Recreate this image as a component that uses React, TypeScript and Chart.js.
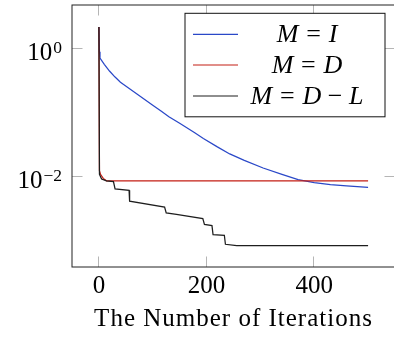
import React, { useEffect, useRef } from 'react';
import { Chart, registerables } from 'chart.js';

Chart.register(...registerables);

// Residual histories for the three choices of M
const iterIdentity = [0, 1, 2, 10, 20, 30, 40, 55, 70, 85, 100, 116, 130, 150, 178, 194, 220, 243, 270, 305, 340, 370, 400, 430, 460, 500];
const residualIdentity = [2.2, 0.9, 0.72, 0.575, 0.447, 0.363, 0.302, 0.245, 0.2, 0.162, 0.132, 0.106, 0.087, 0.069, 0.049, 0.04, 0.0295, 0.0229, 0.0182, 0.0138, 0.011, 0.0091, 0.0082, 0.0076, 0.0073, 0.0069];

const iterDiagonal = [0, 1, 3, 8, 14, 500];
const residualDiagonal = [2.2, 0.0125, 0.011, 0.0095, 0.0087, 0.0087];

const iterLower = [0, 1, 5, 14, 27, 30, 56, 57, 122, 125, 144, 193, 196, 210, 212, 233, 235, 256, 500];
const residualLower = [2.2, 0.011, 0.0093, 0.0087, 0.0085, 0.0065, 0.0062, 0.0042, 0.0034, 0.00275, 0.0026, 0.00224, 0.00182, 0.00174, 0.00126, 0.00123, 0.00089, 0.00085, 0.00085];

const seriesLabels = ['M = I', 'M = D', 'M = D − L'];
const seriesColors = ['#2a48c8', '#c41e14', '#1e1e1e'];

const xTicks = [0, 200, 400];
const yTickExponents = [0, -2];
const xTitle = 'The Number of Iterations';

const FAMILY = '"Liberation Serif", "Times New Roman", serif';
const FONT_SIZE = 25;

const toPoints = (xs: number[], ys: number[]) => xs.map((x, i) => ({ x, y: ys[i] }));

// Draws "M = D − L" style labels: italic letters, upright operators with math spacing
function drawMath(ctx: CanvasRenderingContext2D, label: string, cx: number, baseline: number, size: number) {
  const pieces = label.split(' ').map((tok) => {
    const op = tok === '=' || tok === '−';
    const gap = op ? (tok === '=' ? 0.3 : 0.25) * size : 0;
    const font = `${op ? '' : 'italic '}${size}px ${FAMILY}`;
    ctx.font = font;
    return { tok, font, gap, w: ctx.measureText(tok).width };
  });
  const total = pieces.reduce((s, p) => s + p.w + 2 * p.gap, 0);
  let x = cx - total / 2;
  ctx.textBaseline = 'alphabetic';
  ctx.textAlign = 'left';
  for (const p of pieces) {
    x += p.gap;
    ctx.font = p.font;
    ctx.fillText(p.tok, x, baseline);
    x += p.w + p.gap;
  }
}

const axisDecor = {
  id: 'axisDecor',
  beforeDatasetsDraw(chart: any) {
    const { ctx, chartArea: a, scales } = chart;
    const tl = 10.5;
    ctx.save();
    ctx.strokeStyle = '#b5b5b5';
    ctx.lineWidth = 1;
    ctx.beginPath();
    for (const t of scales.x.ticks) {
      const px = Math.round(scales.x.getPixelForValue(t.value)) - 0.5;
      ctx.moveTo(px, a.top);
      ctx.lineTo(px, a.top + tl);
      ctx.moveTo(px, a.bottom);
      ctx.lineTo(px, a.bottom - tl);
    }
    for (const t of scales.y.ticks) {
      const py = Math.round(scales.y.getPixelForValue(t.value)) - 0.5;
      ctx.moveTo(a.left, py);
      ctx.lineTo(a.left + tl, py);
      ctx.moveTo(a.right, py);
      ctx.lineTo(a.right - tl, py);
    }
    ctx.stroke();
    ctx.restore();
  },
  afterDraw(chart: any) {
    const { ctx, chartArea: a, scales } = chart;
    ctx.save();

    // axis frame
    ctx.strokeStyle = '#222';
    ctx.lineWidth = 1;
    ctx.strokeRect(a.left, a.top, a.right - a.left, a.bottom - a.top);

    // x axis title, slightly tracked out
    ctx.fillStyle = '#000';
    ctx.font = `${FONT_SIZE}px ${FAMILY}`;
    ctx.textAlign = 'center';
    ctx.textBaseline = 'alphabetic';
    (ctx as any).letterSpacing = '1px';
    ctx.fillText(xTitle, (scales.x.left + scales.x.right) / 2, 326);
    (ctx as any).letterSpacing = '0px';

    // y tick labels as 10 with a raised exponent
    const supSize = FONT_SIZE * 0.7;
    scales.y.ticks.forEach((t: any) => {
      const exp = Math.round(Math.log10(t.value));
      const py = scales.y.getPixelForValue(t.value);
      const supText = exp < 0 ? `−${-exp}` : `${exp}`;
      ctx.font = `${supSize}px ${FAMILY}`;
      const supW = ctx.measureText(supText).width;
      ctx.font = `${FONT_SIZE}px ${FAMILY}`;
      const baseW = ctx.measureText('10').width;
      const right = a.left - 10;
      ctx.textAlign = 'left';
      ctx.textBaseline = 'alphabetic';
      ctx.fillText('10', right - supW - baseW - 1, py + 11);
      ctx.font = `${supSize}px ${FAMILY}`;
      ctx.fillText(supText, right - supW, py + 4.5);
    });

    // legend box
    const lw = 200;
    const lh = 103.5;
    const lx = a.right - 10 - lw;
    const ly = a.top + 8.3;
    ctx.fillStyle = '#fff';
    ctx.fillRect(lx, ly, lw, lh);
    ctx.strokeStyle = '#111';
    ctx.lineWidth = 1;
    ctx.strokeRect(lx, ly, lw, lh);
    const rows = [21, 51.7, 82.7];
    seriesLabels.forEach((label, i) => {
      const y = ly + rows[i];
      ctx.strokeStyle = seriesColors[i];
      ctx.lineWidth = 1.2;
      ctx.beginPath();
      ctx.moveTo(lx + 8, y);
      ctx.lineTo(lx + 53, y);
      ctx.stroke();
      ctx.fillStyle = '#000';
      drawMath(ctx, label, lx + 122, y + 8, 26);
    });
    ctx.restore();
  },
};

export default function App() {
  const canvasRef = useRef<HTMLCanvasElement>(null);

  useEffect(() => {
    if (!canvasRef.current) return;
    const series = [
      { xs: iterIdentity, ys: residualIdentity, order: 2 },
      { xs: iterDiagonal, ys: residualDiagonal, order: 1 },
      { xs: iterLower, ys: residualLower, order: 0 },
    ];
    const chart = new Chart(canvasRef.current, {
      type: 'line',
      data: {
        datasets: series.map((s, i) => ({
          label: seriesLabels[i],
          data: toPoints(s.xs, s.ys),
          borderColor: seriesColors[i],
          borderWidth: 1.25,
          pointRadius: 0,
          tension: 0,
          fill: false,
          order: s.order,
        })),
      },
      options: {
        responsive: false,
        animation: false,
        devicePixelRatio: 1,
        layout: { padding: { top: 5, right: 5, left: 0, bottom: 0 } },
        plugins: { legend: { display: false }, tooltip: { enabled: false } },
        scales: {
          x: {
            type: 'linear',
            min: -50,
            max: 550,
            afterBuildTicks: (s: any) => {
              s.ticks = xTicks.map((v) => ({ value: v }));
            },
            afterFit: (s: any) => {
              s.height = 74;
            },
            grid: { display: false, drawTicks: false },
            border: { display: false },
            ticks: {
              font: { family: FAMILY, size: FONT_SIZE },
              color: '#000',
              padding: 4,
              maxRotation: 0,
              autoSkip: false,
            },
          },
          y: {
            type: 'logarithmic',
            min: Math.pow(10, -3.405),
            max: Math.pow(10, 0.685),
            afterBuildTicks: (s: any) => {
              s.ticks = yTickExponents.map((e) => ({ value: Math.pow(10, e) }));
            },
            afterFit: (s: any) => {
              s.width = 72;
            },
            grid: { display: false, drawTicks: false },
            border: { display: false },
            ticks: { display: false },
          },
        },
      },
      plugins: [axisDecor],
    });
    return () => chart.destroy();
  }, []);

  return (
    <div style={{ position: 'fixed', left: 0, top: 0, width: 394, height: 341, overflow: 'hidden', background: '#fff' }}>
      <canvas ref={canvasRef} width={400} height={341} style={{ display: 'block' }} />
    </div>
  );
}
